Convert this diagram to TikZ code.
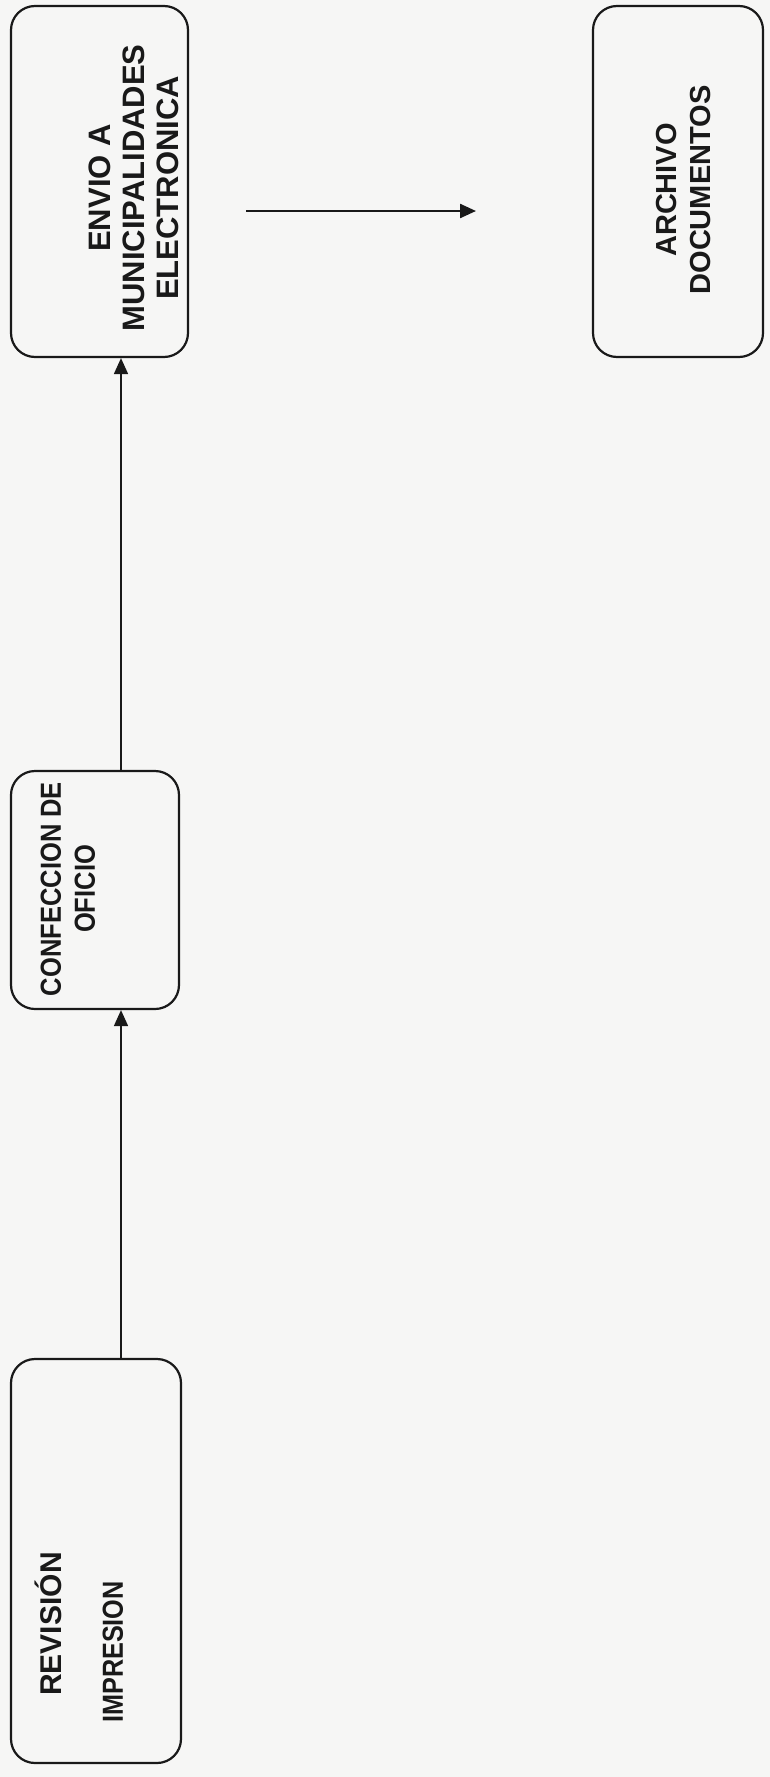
\documentclass[tikz,border=0pt]{standalone}
\usepackage{fontspec}
\setmainfont{Liberation Sans}
\usetikzlibrary{arrows.meta}
\definecolor{paper}{RGB}{246,246,245}
\definecolor{ink}{RGB}{25,25,25}
\begin{document}
\begin{tikzpicture}[x=1pt,y=1pt]
\tikzstyle{every node}+=[inner sep=0pt]
\tikzstyle{stepbox}=[draw=ink, rounded corners=24pt, line width=2.2pt]
\tikzstyle{steptext}=[rotate=90, align=center, text=ink]
\tikzstyle{flow}=[draw=ink, -{Triangle[length=16pt,width=14pt]}, line width=1.7pt]
\useasboundingbox (0,0) rectangle (770,-1777);
\fill [paper] (0,0) rectangle (770,-1777);

\node [stepbox, minimum width=170pt, minimum height=404pt] (revision) at (96,-1561) {};
\node [stepbox, minimum width=168pt, minimum height=238pt] (confeccion) at (95,-890) {};
\node [stepbox, minimum width=177pt, minimum height=351pt] (envio) at (99.5,-181.5) {};
\node [stepbox, minimum width=170pt, minimum height=351pt] (archivo) at (678,-181.5) {};

\node [steptext, font=\fontsize{30}{34}\selectfont\bfseries] (revisiontext) at (48,-1624) {REVISIÓN};
\node [steptext, font=\fontsize{29}{34}\selectfont\bfseries] (impresiontext) at (113,-1652) {\scalebox{0.87}[1]{IMPRESION}};
\node [steptext, font=\fontsize{29}{34}\selectfont\bfseries] (confecciontext) at (68,-889) {\scalebox{0.88}[1]{CONFECCION DE}\\\scalebox{0.88}[1]{OFICIO}};
\node [steptext, font=\fontsize{31}{34}\selectfont\bfseries] (enviotext) at (134,-188) {ENVIO A\\MUNICIPALIDADES\\ELECTRONICA};
\node [steptext, font=\fontsize{29}{34}\selectfont\bfseries] (archivotext) at (684,-190) {ARCHIVO\\DOCUMENTOS};

\draw [flow] ([xshift=25pt]revision.north) -- ([xshift=25pt]revision.north |- confeccion.south);
\draw [flow] ([xshift=26pt]confeccion.north) -- ([xshift=26pt]confeccion.north |- envio.south);

\coordinate (sendfrom) at (246,-211);
\coordinate (sendto) at (476,-211);
\draw [flow, line width=2.4pt] (sendfrom) -- (sendto);
\end{tikzpicture}
\end{document}
